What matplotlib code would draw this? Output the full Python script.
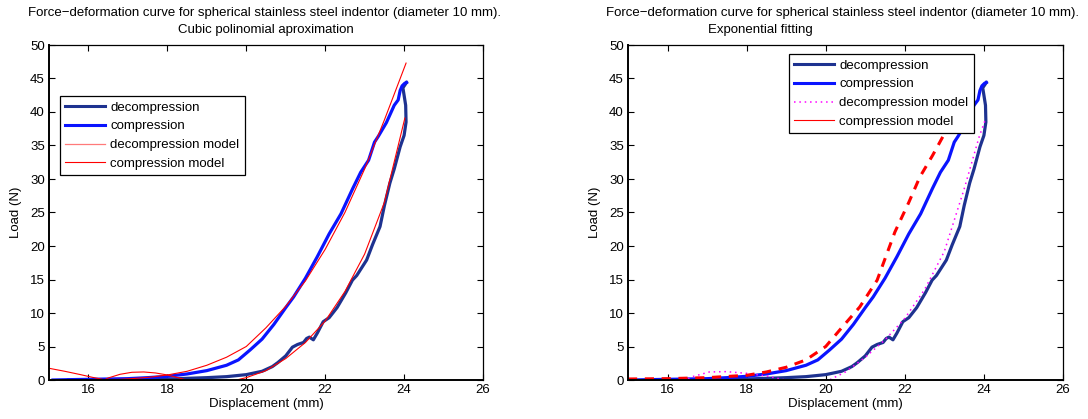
import matplotlib
matplotlib.use('Agg')
import matplotlib.pyplot as plt
from matplotlib.lines import Line2D

plt.rcParams['font.family'] = ['Liberation Sans', 'DejaVu Sans']
FS = 9.5

# measured loading curve (compression)
comp_x = [15.1, 15.5, 16.0, 16.5, 17.0, 17.5, 18.0, 18.5, 19.0, 19.5, 19.8, 20.1,
          20.4, 20.7, 21.0, 21.2, 21.5, 21.8, 22.1, 22.4, 22.7, 22.9, 23.1, 23.25,
          23.35, 23.55, 23.75, 23.85, 23.9, 23.95, 24.02, 24.06]
comp_y = [0.0, 0.05, 0.1, 0.15, 0.2, 0.35, 0.55, 0.9, 1.4, 2.2, 3.0, 4.5,
          6.1, 8.3, 10.8, 12.4, 15.2, 18.4, 21.8, 24.8, 28.6, 31.0, 32.8, 35.5,
          36.4, 38.4, 41.0, 41.8, 43.2, 43.9, 44.3, 44.4]

# measured unloading curve (decompression), from the peak down
dec_x = [24.06, 23.97, 24.0, 24.04, 24.05, 24.0, 23.9, 23.75, 23.64, 23.5, 23.39,
         23.2, 23.05, 22.8, 22.69, 22.52, 22.3, 22.1, 21.95, 21.8, 21.7, 21.6,
         21.53, 21.45, 21.3, 21.17, 21.0, 20.8, 20.66, 20.4, 20.0, 19.5, 19.0,
         18.5, 18.0, 17.0, 16.0, 15.5]
dec_y = [44.4, 43.6, 42.5, 41.0, 38.5, 36.5, 34.8, 31.5, 29.4, 26.0, 22.9,
         20.2, 17.9, 15.6, 14.9, 13.0, 10.8, 9.3, 8.7, 7.0, 6.0, 6.4,
         6.2, 5.6, 5.3, 4.9, 3.6, 2.6, 2.0, 1.3, 0.8, 0.5, 0.35,
         0.25, 0.15, 0.05, 0.0, 0.0]

# cubic polynomial models (left panel)
cub_comp_x = [15.0, 15.4, 15.8, 16.1, 16.4, 16.8, 17.2, 17.6, 18.0, 18.5, 19.0,
              19.5, 20.0, 20.5, 21.0, 21.5, 22.0, 22.5, 23.0, 23.5, 24.05]
cub_comp_y = [1.75, 1.3, 0.8, 0.4, 0.05, 0.1, 0.25, 0.45, 0.75, 1.3, 2.2,
              3.4, 5.0, 7.8, 11.0, 14.8, 19.5, 25.0, 31.5, 38.8, 47.3]
cub_dec_x = [16.2, 16.5, 16.8, 17.1, 17.4, 17.7, 18.0, 18.3, 18.6, 19.0, 19.4,
             19.75, 20.0, 20.5, 21.0, 21.5, 22.0, 22.5, 23.0, 23.5, 24.02]
cub_dec_y = [-0.6, 0.3, 0.85, 1.15, 1.2, 1.05, 0.75, 0.3, -0.2, -0.6, -0.5,
             0.0, 0.35, 1.4, 3.2, 5.6, 8.8, 13.2, 18.8, 26.5, 39.1]

# exponential models (right panel)
exp_comp_x = [15.0, 16.0, 17.0, 18.0, 18.5, 19.0, 19.5, 19.8, 20.0, 20.36, 20.86,
              21.3, 21.75, 22.1, 22.38, 22.7, 22.96, 23.2, 23.4]
exp_comp_y = [0.15, 0.2, 0.35, 0.7, 1.2, 1.9, 3.0, 4.2, 5.0, 7.5, 10.9,
              14.9, 22.1, 26.5, 30.3, 33.5, 36.3, 40.0, 44.0]
exp_dec_x = [16.4, 16.63, 17.06, 17.48, 17.99, 18.5, 18.9, 19.3, 19.7, 20.09, 20.5,
             21.0, 21.5, 22.0, 22.5, 23.0, 23.5, 23.88, 24.05]
exp_dec_y = [-0.2, 0.5, 1.2, 1.25, 1.0, 0.6, 0.1, -0.4, -0.4, 0.0, 1.2,
             3.4, 6.0, 9.2, 13.5, 19.2, 28.5, 36.3, 39.1]

NAVY = '#1e3290'
BLUE = '#0a14ff'


def style_axes(ax):
    ax.set_xlim(15, 26)
    ax.set_ylim(0, 50)
    ax.set_xticks(range(16, 27, 2))
    ax.set_yticks(range(0, 51, 5))
    ax.tick_params(direction='in', length=4, width=0.8, top=True, right=True,
                   labelsize=FS, pad=3)
    for s in ax.spines.values():
        s.set_linewidth(0.9)
    ax.spines['left'].set_linewidth(1.4)
    ax.spines['bottom'].set_linewidth(1.4)
    ax.set_xlabel('Displacement (mm)', fontsize=FS, labelpad=1)
    ax.set_ylabel('Load (N)', fontsize=FS, labelpad=6)


fig = plt.figure(figsize=(10.88, 4.19), dpi=100)
ax1 = fig.add_axes([49 / 1088, 39 / 419, 434 / 1088, 335 / 419])
ax2 = fig.add_axes([628 / 1088, 39 / 419, 435 / 1088, 335 / 419])

# left: cubic
ax1.plot(dec_x, dec_y, color=NAVY, lw=2.3)
ax1.plot(comp_x, comp_y, color=BLUE, lw=2.3)
ax1.plot(cub_dec_x, cub_dec_y, color='red', lw=0.8)
ax1.plot(cub_comp_x, cub_comp_y, color='red', lw=0.8)
style_axes(ax1)
h1 = [Line2D([], [], color=NAVY, lw=2.2), Line2D([], [], color=BLUE, lw=2.2),
      Line2D([], [], color='#ff7a7a', lw=0.9), Line2D([], [], color='red', lw=0.8)]
labels = ['decompression', 'compression', 'decompression model', 'compression model']
leg_kw = dict(fontsize=FS, loc='upper left', borderaxespad=0, fancybox=False,
              framealpha=1, edgecolor='black', handlelength=3.0, handletextpad=0.4,
              labelspacing=0.5, borderpad=0.4)
lg1 = ax1.legend(h1, labels, bbox_to_anchor=((60 - 49) / 434, (380 - 96) / 335), **leg_kw)
lg1.get_frame().set_linewidth(0.9)

# right: exponential
ax2.plot(dec_x, dec_y, color=NAVY, lw=2.3)
ax2.plot(comp_x, comp_y, color=BLUE, lw=2.3)
ax2.plot(exp_dec_x, exp_dec_y, color='#ff00ff', lw=1.1, ls=(0, (1, 2.5)))
ax2.plot(exp_comp_x, exp_comp_y, color='red', lw=2.2, ls=(0, (3, 2.5)))
style_axes(ax2)
h2 = [Line2D([], [], color=NAVY, lw=2.2), Line2D([], [], color=BLUE, lw=2.2),
      Line2D([], [], color='#ff00ff', lw=1.1, ls=(0, (1, 2.5))),
      Line2D([], [], color='red', lw=0.8)]
lg2 = ax2.legend(h2, labels, bbox_to_anchor=((789 - 628) / 435, (380 - 54) / 335), **leg_kw)
lg2.get_frame().set_linewidth(0.9)

line1 = 'Force\u2212deformation curve for spherical stainless steel indentor (diameter 10 mm).'
fig.text(265 / 1088, 1 - 13 / 419, line1, ha='center', va='center', fontsize=FS)
fig.text(266 / 1088, 1 - 30 / 419, 'Cubic polinomial aproximation', ha='center',
         va='center', fontsize=FS)
fig.text(842 / 1088, 1 - 13 / 419, line1, ha='center', va='center', fontsize=FS)
fig.text(760 / 1088, 1 - 30 / 419, 'Exponential fitting', ha='center',
         va='center', fontsize=FS)

fig.savefig('out.png', dpi=100)
